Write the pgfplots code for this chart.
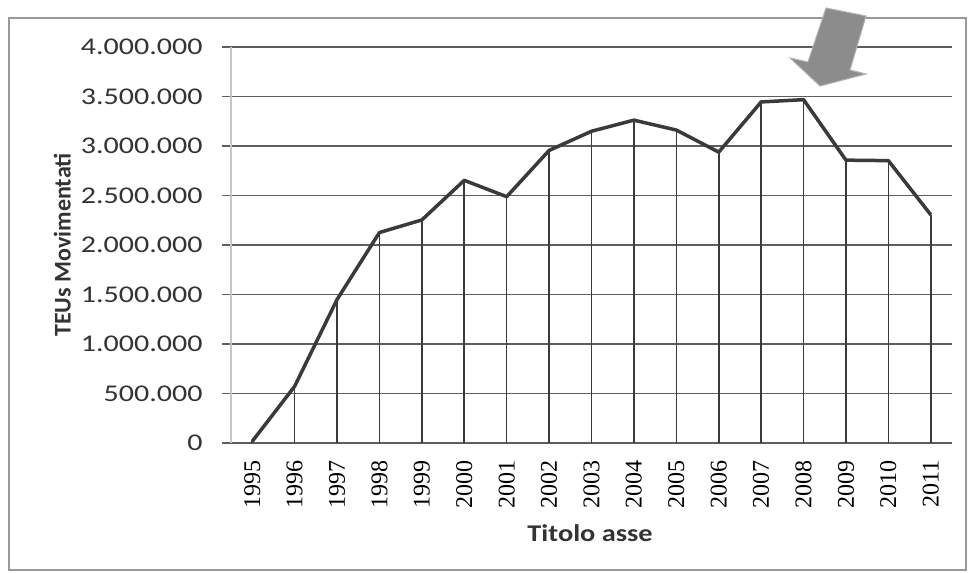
\documentclass[border=0pt]{standalone}
\usepackage{fontspec}
\setmainfont{Carlito}
\newfontfamily\yearfont{Liberation Serif}
\newfontfamily\tickfont[FakeStretch=1.25]{Carlito}
\newfontfamily\labfont[FakeStretch=1.18]{Carlito}
\usepackage{pgfplots}
\pgfplotsset{compat=1.18}
\definecolor{gridc}{HTML}{5E5E5E}
\definecolor{linec}{HTML}{3A3A3A}
\definecolor{arrowc}{HTML}{8C8C8C}
\begin{document}
\begin{tikzpicture}[x=1pt,y=1pt]
\path[use as bounding box] (0,0) rectangle (970,573);
\draw[gray!80, line width=1.5pt] (9,3) rectangle (966,555);
\begin{axis}[
    at={(231pt,130pt)}, anchor=south west,
    scale only axis, width=721pt, height=396pt,
    xmin=1994.5, xmax=2011.5,
    ymin=0, ymax=4000000,
    axis x line=bottom, axis y line=left,
    x axis line style={-, gridc, line width=1.6pt},
    y axis line style={-, gray!45, line width=1.2pt},
    xtick={1995,...,2011},
    xticklabels={1995,1996,1997,1998,1999,2000,2001,2002,2003,2004,2005,2006,2007,2008,2009,2010,2011},
    x tick label style={font=\yearfont\fontsize{24}{26}\selectfont, rotate=90, anchor=east, xshift=-5pt},
    major x tick style={draw=none},
    ytick={0,500000,...,4000000},
    scaled y ticks=false,
    tick align=outside,
    major tick length=9pt,
    y tick style={gridc, line width=1.4pt},
    y tick label style={font=\tickfont\fontsize{24}{28}\selectfont, xshift=-16pt, text=black!80,
        /pgf/number format/.cd, fixed, precision=0, 1000 sep={.}, assume math mode=true},
    ymajorgrids,
    grid style={gridc, line width=1.4pt},
    xlabel={Titolo asse},
    ylabel={TEUs Movimentati},
    every axis x label/.style={at={(axis description cs:0.498,-0.227)}, anchor=center,
        font=\labfont\bfseries\fontsize{24}{28}\selectfont, text=black!80},
    every axis y label/.style={at={(axis description cs:-0.234,0.5)}, anchor=center, rotate=90,
        font=\bfseries\fontsize{24}{28}\selectfont, text=black!80},
]
\addplot[ycomb, linec, line width=1.6pt, mark=none] coordinates {
    (1995,16000) (1996,572000) (1997,1449000) (1998,2126000) (1999,2253000)
    (2000,2653000) (2001,2488000) (2002,2955000) (2003,3149000) (2004,3261000)
    (2005,3161000) (2006,2938000) (2007,3445000) (2008,3468000) (2009,2857000)
    (2010,2852000) (2011,2305000)
};
\addplot[linec, line width=3.5pt, mark=none, line join=round] coordinates {
    (1995,16000) (1996,572000) (1997,1449000) (1998,2126000) (1999,2253000)
    (2000,2653000) (2001,2488000) (2002,2955000) (2003,3149000) (2004,3261000)
    (2005,3161000) (2006,2938000) (2007,3445000) (2008,3468000) (2009,2857000)
    (2010,2852000) (2011,2305000)
};
\end{axis}
% block arrow pointing at the 2008 peak
\fill[arrowc, draw=gray!60, line width=1pt]
    (826,565) -- (866,557) -- (850,503) -- (866,499) -- (820,487) -- (790,515) -- (808,511) -- cycle;
\end{tikzpicture}
\end{document}
